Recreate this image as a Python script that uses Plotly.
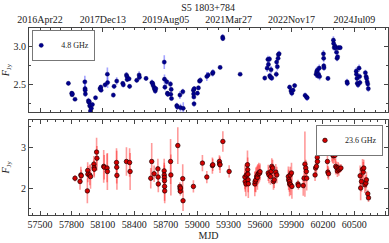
import plotly.graph_objects as go

# ---- 4.8 GHz (upper panel) ----
mjd_48 = [57771, 57803, 57806, 57809, 57834, 57928, 57930, 57931, 57933, 57962, 57966, 57970, 57975, 57978,
          57981, 57990, 58000, 58030, 58073, 58080, 58083, 58121, 58143, 58145, 58200, 58207, 58232, 58290,
          58295, 58325, 58330, 58332, 58350, 58355, 58423, 58446, 58449, 58512, 58568, 58575, 58580, 58590,
          58595, 58600, 58605, 58686, 58688, 58692, 58710, 58716, 58720, 58745, 58748, 58752, 58755, 58805,
          58810, 58835, 58840, 58863, 58867, 58964, 58966, 58968, 58970, 58972, 59002, 59012, 59022, 59030,
          59092, 59105, 59147, 59150, 59219, 59243, 59245, 59410, 59645, 59668, 59675, 59680, 59690, 59692,
          59700, 59705, 59712, 59755, 59758, 59765, 59772, 59775, 59782, 59882, 59895, 59903, 59915, 59930,
          60030, 60045, 60050, 60135, 60140, 60145, 60150, 60158, 60165, 60168, 60205, 60207, 60208, 60210,
          60248, 60300, 60302, 60308, 60315, 60322, 60330, 60335, 60340, 60348, 60365, 60430, 60433, 60518,
          60520, 60525, 60528, 60535, 60545, 60550, 60553, 60605, 60612, 60617, 60622, 60628, 60633]
flux_48 = [2.51, 2.38, 2.36, 2.37, 2.30, 2.53, 2.44, 2.42, 2.37, 2.28, 2.26, 2.27, 2.21, 2.22,
           2.145, 2.18, 2.23, 2.32, 2.44, 2.46, 2.42, 2.49, 2.63, 2.52, 2.355, 2.47, 2.54, 2.51,
           2.49, 2.62, 2.60, 2.56, 2.57, 2.47, 2.55, 2.62, 2.59, 2.575, 2.52, 2.51, 2.48, 2.45,
           2.43, 2.41, 2.44, 2.79, 2.565, 2.46, 2.53, 2.38, 2.365, 2.50, 2.365, 2.43, 2.31, 2.215,
           2.20, 2.355, 2.19, 2.40, 2.18, 2.42, 2.37, 2.33, 2.24, 2.44, 2.38, 2.45, 2.54, 2.55,
           2.60, 2.62, 2.64, 2.655, 2.72, 3.12, 3.10, 2.63, 2.58, 2.71, 2.825, 2.76, 2.83, 2.61,
           2.59, 2.69, 2.58, 2.63, 2.79, 2.73, 2.84, 2.89, 2.90, 2.46, 2.41, 2.38, 2.42, 2.48,
           2.35, 2.325, 2.32, 2.63, 2.66, 2.68, 2.61, 2.63, 2.71, 2.60, 2.90, 2.84, 2.74, 2.715,
           2.575, 3.08, 3.035, 2.98, 3.00, 2.98, 2.92, 2.84, 2.86, 2.98, 2.98, 2.53, 2.51, 2.67,
           2.63, 2.575, 2.51, 2.49, 2.71, 2.60, 2.52, 2.65, 2.60, 2.575, 2.53, 2.50, 2.44]
err_48 = [0.03, 0.03, 0.03, 0.03, 0.02, 0.08, 0.06, 0.05, 0.04, 0.04, 0.03, 0.03, 0.04, 0.04,
          0.04, 0.03, 0.03, 0.03, 0.04, 0.03, 0.03, 0.03, 0.09, 0.07, 0.03, 0.03, 0.05, 0.03,
          0.03, 0.04, 0.03, 0.03, 0.03, 0.03, 0.03, 0.05, 0.04, 0.03, 0.04, 0.03, 0.04, 0.04,
          0.04, 0.04, 0.03, 0.09, 0.06, 0.04, 0.04, 0.03, 0.03, 0.04, 0.03, 0.03, 0.03, 0.04,
          0.04, 0.05, 0.05, 0.04, 0.08, 0.04, 0.03, 0.03, 0.04, 0.03, 0.03, 0.03, 0.03, 0.04,
          0.06, 0.04, 0.04, 0.04, 0.02, 0.04, 0.03, 0.02, 0.03, 0.05, 0.05, 0.05, 0.04, 0.04,
          0.04, 0.05, 0.04, 0.04, 0.05, 0.05, 0.04, 0.04, 0.04, 0.03, 0.04, 0.04, 0.03, 0.03,
          0.04, 0.04, 0.04, 0.05, 0.06, 0.05, 0.04, 0.04, 0.05, 0.05, 0.05, 0.05, 0.04, 0.04,
          0.03, 0.05, 0.05, 0.04, 0.04, 0.04, 0.04, 0.04, 0.04, 0.03, 0.03, 0.04, 0.04, 0.05,
          0.04, 0.04, 0.04, 0.04, 0.05, 0.04, 0.04, 0.04, 0.04, 0.04, 0.04, 0.04, 0.04]

# ---- 23.6 GHz (lower panel) ----
mjd_236 = [57834, 57882, 57890, 57894, 57952, 57955, 57957, 57975, 57982, 58014, 58016, 58018, 58040, 58043,
           58108, 58113, 58140, 58143, 58230, 58232, 58234, 58325, 58355, 58360, 58557, 58566, 58589, 58625,
           58627, 58629, 58685, 58686, 58687, 58688, 58689, 58690, 58746, 58749, 58815, 58835, 58837, 58839,
           58841, 58862, 58865, 58964, 59050, 59092, 59145, 59149, 59212, 59214, 59218, 59245, 59305, 59455,
           59458, 59465, 59470, 59480, 59482, 59484, 59486, 59488, 59550, 59553, 59560, 59568, 59575, 59580,
           59588, 59595, 59600, 59678, 59685, 59700, 59706, 59712, 59720, 59728, 59735, 59750, 59760, 59870,
           59873, 59880, 59882, 59888, 59892, 59900, 59904, 59962, 59966, 60012, 60020, 60028, 60036, 60042,
           60045, 60125, 60130, 60138, 60146, 60148, 60243, 60247, 60253, 60285, 60293, 60300, 60308, 60315,
           60322, 60330, 60338, 60345, 60352, 60362, 60372, 60555, 60560, 60568, 60578, 60585, 60590, 60600,
           60610, 60615, 60628, 60635]
flux_236 = [2.24, 2.16, 2.32, 2.30, 1.93, 2.43, 2.34, 2.32, 2.28, 2.585, 2.50, 2.46, 2.88, 2.73,
            2.53, 2.51, 2.49, 2.405, 2.625, 2.51, 2.31, 2.65, 2.625, 2.405, 2.24, 2.65, 2.35, 2.47,
            2.27, 2.10, 2.42, 2.32, 2.26, 2.18, 2.04, 1.93, 2.65, 2.32, 3.04, 2.04, 1.98, 1.92,
            2.00, 2.23, 1.69, 2.04, 2.61, 2.27, 2.55, 2.57, 2.65, 2.59, 2.57, 3.14, 2.405, 2.27,
            2.16, 2.10, 2.32, 2.57, 2.45, 2.34, 2.20, 2.105, 2.10, 2.16, 2.20, 2.28, 2.26, 2.34,
            2.37, 2.36, 2.40, 2.37, 2.32, 2.28, 2.405, 2.53, 2.49, 2.16, 2.20, 2.39, 2.32, 2.28,
            2.20, 2.16, 2.10, 2.32, 2.08, 2.37, 2.04, 2.10, 2.06, 2.06, 2.24, 2.585, 2.49, 2.405,
            2.24, 2.32, 2.49, 2.53, 2.75, 2.65, 2.65, 2.39, 2.35, 2.85, 2.81, 2.79, 2.88, 2.80,
            2.53, 2.50, 2.42, 2.49, 2.45, 2.47, 2.49, 2.30, 2.00, 2.16, 2.46, 2.39, 2.49, 2.08,
            2.12, 2.20, 1.86, 1.76]
err_236 = [0.08, 0.2, 0.2, 0.15, 0.3, 0.2, 0.2, 0.25, 0.3, 0.2, 0.2, 0.2, 0.35, 0.3,
           0.4, 0.3, 0.35, 0.45, 0.35, 0.4, 0.35, 0.35, 0.35, 0.45, 0.25, 0.45, 0.2, 0.25,
           0.25, 0.2, 0.3, 0.3, 0.3, 0.3, 0.35, 0.3, 0.55, 0.5, 0.45, 0.1, 0.1, 0.1,
           0.1, 0.35, 0.25, 0.15, 0.2, 0.15, 0.2, 0.15, 0.15, 0.15, 0.2, 0.25, 0.15, 0.3,
           0.25, 0.3, 0.3, 0.35, 0.3, 0.3, 0.3, 0.35, 0.3, 0.25, 0.3, 0.25, 0.3, 0.25,
           0.25, 0.2, 0.2, 0.2, 0.2, 0.2, 0.15, 0.2, 0.2, 0.2, 0.2, 0.2, 0.2, 0.25,
           0.25, 0.25, 0.3, 0.2, 0.25, 0.25, 0.3, 0.1, 0.1, 0.25, 0.25, 0.8, 0.2, 0.25,
           0.3, 0.15, 0.2, 0.2, 0.2, 0.15, 0.25, 0.15, 0.15, 0.2, 0.2, 0.2, 0.2, 0.2,
           0.2, 0.15, 0.15, 0.15, 0.15, 0.1, 0.1, 0.25, 0.3, 0.25, 0.25, 0.25, 0.2, 0.2,
           0.2, 0.2, 0.1, 0.1]

top_tickvals = [57500, 58100, 58700, 59300, 59900, 60500]
top_ticktext = ["2016Apr22", "2017Dec13", "2019Aug05", "2021Mar27", "2022Nov17", "2024Jul09"]

xrange = [57395, 60821]
FONT = "Liberation Serif, Times New Roman, serif"

fig = go.Figure()
fig.add_trace(go.Scatter(
    x=mjd_48, y=flux_48, mode="markers", name="4.8 GHz",
    error_y=dict(type="data", array=err_48, color="rgba(90,90,255,0.55)", thickness=1.6, width=0),
    marker=dict(color="#00008f", size=4.2, line=dict(color="#000050", width=0.4)),
    xaxis="x", yaxis="y", legend="legend"))
fig.add_trace(go.Scatter(
    x=mjd_236, y=flux_236, mode="markers", name="23.6 GHz",
    error_y=dict(type="data", array=err_236, color="rgba(255,30,30,0.45)", thickness=1.6, width=0),
    marker=dict(color="#d40000", size=4.5, line=dict(color="#200000", width=0.7)),
    xaxis="x2", yaxis="y2", legend="legend2"))

axis_common = dict(showline=True, linecolor="#444", linewidth=1, mirror="ticks",
                   ticks="inside", ticklen=4, tickcolor="#444", showgrid=False, zeroline=False,
                   exponentformat="none",
                   tickfont=dict(family=FONT, size=10, color="#222"))

fig.update_layout(
    width=389, height=243,
    margin=dict(l=29, r=1, t=28, b=28),
    paper_bgcolor="white", plot_bgcolor="white",
    font=dict(family=FONT, size=10, color="#222"),
    showlegend=True,
    title=dict(text="S5 1803+784", x=0.535, xanchor="center", y=0.985, yanchor="top",
               font=dict(family=FONT, size=10, color="#222")),
    xaxis=dict(domain=[0, 1], anchor="y", range=xrange, side="top",
               tickvals=top_tickvals, ticktext=top_ticktext,
               minor=dict(dtick=100, tick0=57500, ticks="inside", ticklen=2, tickcolor="#444"),
               **axis_common),
    yaxis=dict(domain=[0.55, 1], anchor="x", range=[2.13, 3.24],
               tickvals=[2.5, 3.0], ticktext=["2.5", "3.0"],
               minor=dict(dtick=0.25, tick0=2.0, ticks="inside", ticklen=2, tickcolor="#444"),
               title=dict(text="<i>F</i><sub>Jy</sub>", standoff=4, font=dict(family=FONT, size=10)),
               **axis_common),
    xaxis2=dict(domain=[0, 1], anchor="y2", range=xrange, side="bottom",
                tick0=57500, dtick=300, tickformat="d",
                minor=dict(dtick=75, tick0=57500, ticks="inside", ticklen=2, tickcolor="#444"),
                title=dict(text="MJD", standoff=2, font=dict(family=FONT, size=10)),
                **axis_common),
    yaxis2=dict(domain=[0, 0.509], anchor="x2", range=[1.34, 3.67],
                tickvals=[2, 3], ticktext=["2", "3"],
                minor=dict(dtick=0.5, tick0=1.0, ticks="inside", ticklen=2, tickcolor="#444"),
                title=dict(text="<i>F</i><sub>Jy</sub>", standoff=9, font=dict(family=FONT, size=10)),
                **axis_common),
    legend=dict(x=0.009, y=0.99, xanchor="left", yanchor="top",
                bordercolor="#777", borderwidth=1, bgcolor="white",
                font=dict(family=FONT, size=8), itemwidth=30, tracegroupgap=0,
                indentation=-12),
    legend2=dict(x=0.986, y=0.482, xanchor="right", yanchor="top",
                 bordercolor="#777", borderwidth=1, bgcolor="white",
                 font=dict(family=FONT, size=8), itemwidth=30, tracegroupgap=0,
                 indentation=-12),
)

fig.write_html("out.html", config={"displayModeBar": False},
               post_script="document.body.style.margin='0px';document.body.style.padding='0px';")
